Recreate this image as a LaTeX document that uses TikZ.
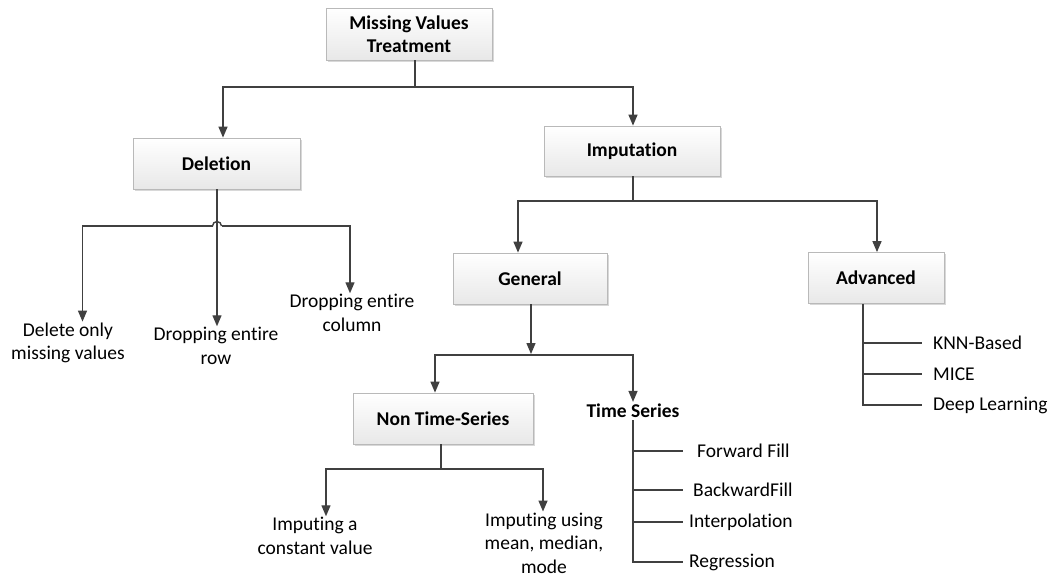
\documentclass[tikz,border=0pt]{standalone}
\usepackage{fontspec}
\setmainfont{Carlito}[Ligatures=CommonOff]
\usetikzlibrary{arrows.meta,shadows,calc}
\definecolor{ln}{RGB}{64,64,64}
\definecolor{bxb}{RGB}{185,185,185}
\definecolor{bxf}{RGB}{232,232,232}
\begin{document}
\begin{tikzpicture}[x=1pt,y=-1pt,
  every node/.style={font=\fontsize{19.5}{23.5}\selectfont, text=black},
  box/.style={draw=bxb, line width=0.8pt, top color=white, bottom color=bxf,
    minimum height=51pt, inner sep=2pt, align=center,
    font=\fontsize{19.5}{23.5}\selectfont\bfseries,
    drop shadow={shadow xshift=1.5pt, shadow yshift=-1.5pt, opacity=0.3, fill=gray}},
  conn/.style={draw=ln, line width=1.4pt},
  arr/.style={conn, -{Triangle[length=11pt,width=9pt]}},
  lbl/.style={align=center, inner sep=1pt},
  item/.style={anchor=west, inner ysep=1pt},
]
\useasboundingbox (0,0) rectangle (1052,576);
\fill[white] (0,0) rectangle (1052,576);

% boxes
\node[box, minimum width=166pt, minimum height=52pt] (root) at (409,34) {Missing Values\\Treatment};
\node[box, minimum width=167pt] (del) at (216.5,163.5) {Deletion};
\node[box, minimum width=176pt, minimum height=50pt] (imp) at (632,151) {Imputation};
\node[box, minimum width=154pt] (gen) at (530,278.5) {General};
\node[box, minimum width=136pt] (adv) at (876,278) {Advanced};
\node[box, minimum width=180pt] (nts) at (443,418.5) {Non Time-Series};
\node[font=\fontsize{19.5}{23.5}\selectfont\bfseries, inner sep=2pt] (ts) at (633,411) {Time Series};

% leaf labels
\node[lbl] (dl) at (68,343) {Delete only\\missing values};
\node[lbl] (dr) at (216,346) {Dropping entire\\row};
\node[lbl] (dc) at (352,313) {Dropping entire\\column};
\node[lbl] (ic) at (315,536) {Imputing a\\constant value};
\node[lbl] (im) at (544,543) {Imputing using\\mean, median,\\mode};

\node[item, inner xsep=14pt] (ff) at (683,451) {Forward Fill};
\node[item, inner xsep=10pt] (bf) at (683,490) {BackwardFill};
\node[item, inner xsep=6pt] (ip) at (683,522) {Interpolation};
\node[item, inner xsep=6pt] (rg) at (683,562) {Regression};

\node[item, inner xsep=11pt] (knn) at (922,343) {KNN-Based};
\node[item, inner xsep=11pt] (mice) at (922,374) {MICE};
\node[item, inner xsep=11pt] (dlrn) at (922,405) {Deep Learning};

% root connectors
\coordinate (rj) at (415,87);
\draw[conn] (root.south -| rj) -- (rj);
\draw[arr] (rj) -| ($(del.north)+(6.5,0)$);
\draw[arr] (rj) -| ($(imp.north)+(1,0)$);

% deletion connectors
\coordinate (dj) at (217,226);
\draw[arr] (del.south -| dj) -- (dj |- dr.north);
\draw[conn] ($(dj)+(-4.5,0)$) arc[start angle=180, end angle=360, radius=4.5];
\draw[arr] ($(dj)+(-4.5,0)$) -| ($(dl.north)+(14.5,0)$);
\draw[arr] ($(dj)+(4.5,0)$) -| ($(dc.north)+(-2,0)$);

% imputation connectors
\coordinate (ij) at (633,201);
\draw[conn] (imp.south -| ij) -- (ij);
\draw[arr] (ij) -| ($(gen.north)+(-12,0)$);
\draw[arr] (ij) -| ($(adv.north)+(1,0)$);

% general connectors
\coordinate (gj) at (531,355);
\draw[arr] (gen.south -| gj) -- ($(gj)+(0,-1)$);
\draw[arr] (gj) -| ($(nts.north)+(-8,0)$);
\draw[arr] (gj) -| (ts.north);

% non time-series connectors
\coordinate (nj) at (441,469);
\draw[conn] (nts.south -| nj) -- (nj);
\draw[arr] (nj) -| ($(ic.north)+(11,0)$);
\draw[arr] (nj) -| ($(im.north)+(-1,0)$);

% time series list
\draw[conn] (ts.south) |- (rg.west);
\draw[conn] (ts.south |- ff.west) -- (ff.west);
\draw[conn] (ts.south |- bf.west) -- (bf.west);
\draw[conn] (ts.south |- ip.west) -- (ip.west);

% advanced list
\coordinate (av) at ($(adv.south)+(-13,0)$);
\draw[conn] (av) |- (dlrn.west);
\draw[conn] (av |- knn.west) -- (knn.west);
\draw[conn] (av |- mice.west) -- (mice.west);
\end{tikzpicture}
\end{document}
